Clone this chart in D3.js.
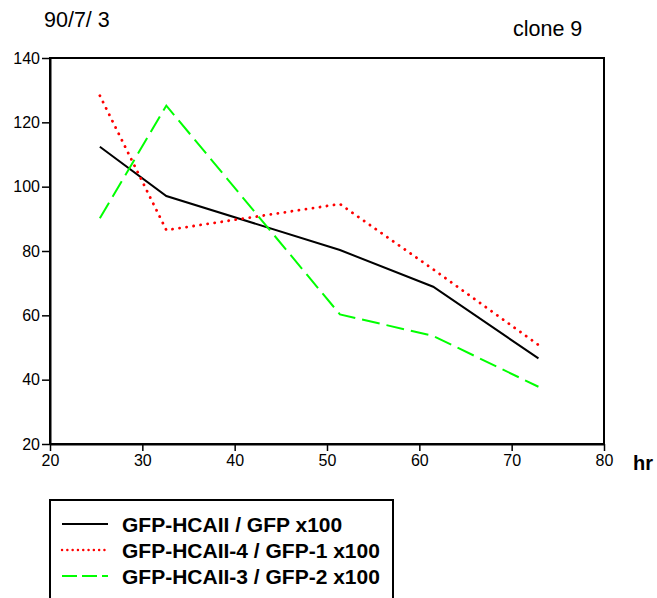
<!DOCTYPE html>
<html><head><meta charset="utf-8">
<script src="https://cdn.jsdelivr.net/npm/d3@7/dist/d3.min.js"></script>
<style>body{margin:0;background:#fff;}svg{display:block;font-family:Arial,"Liberation Sans",sans-serif;}</style>
</head><body><svg id="c" width="657" height="598"></svg>
<script>
const hours = [25.4, 32.6, 51.4, 61.5, 72.9];
const seriesNames = ["GFP-HCAII / GFP x100", "GFP-HCAII-4 / GFP-1 x100", "GFP-HCAII-3 / GFP-2 x100"];
const blackValues = [112.4, 97.1, 80.3, 68.9, 46.6];
const redValues = [128.3, 86.5, 94.6, 74.3, 50.8];
const greenValues = [90.2, 125.2, 60.3, 53.6, 37.8];
const xTicks = [20, 30, 40, 50, 60, 70, 80];
const yTicks = [20, 40, 60, 80, 100, 120, 140];
const titleLeft = "90/7/ 3";
const titleRight = "clone 9";
const xLabel = "hr";

const svg = d3.select("#c");
const x = d3.scaleLinear().domain([20, 80]).range([50, 604]);
const y = d3.scaleLinear().domain([20, 140]).range([444, 58]);

// frame
svg.append("rect").attr("x", 50).attr("y", 58).attr("width", 554).attr("height", 386)
  .attr("fill", "none").attr("stroke", "#000").attr("stroke-width", 2);

const xa = svg.append("g").attr("transform", "translate(0,444)")
  .call(d3.axisBottom(x).tickValues(xTicks).tickSize(7).tickSizeOuter(0).tickPadding(4));
const ya = svg.append("g").attr("transform", "translate(50,0)")
  .call(d3.axisLeft(y).tickValues(yTicks).tickSize(8).tickSizeOuter(0).tickPadding(2));
[xa, ya].forEach(a => {
  a.select(".domain").attr("stroke", "#000").attr("stroke-width", 2);
  a.selectAll(".tick line").attr("stroke", "#000").attr("stroke-width", 1.5);
  a.selectAll("text").attr("font-size", 16).attr("fill", "#000")
    .attr("font-family", "Arial, 'Liberation Sans', sans-serif");
});

const line = d3.line().x((d, i) => x(hours[i])).y(d => y(d));
const styles = [
  {vals: blackValues, color: "#000", dash: null, cap: "butt", legDash: null},
  {vals: redValues, color: "#ff0000", dash: "0.1 7", cap: "round", legDash: "0.1 5.2"},
  {vals: greenValues, color: "#00ff00", dash: "18 7", cap: "butt", legDash: "15 5"}
];
styles.forEach(s => {
  svg.append("path").datum(s.vals).attr("d", line).attr("fill", "none")
    .attr("stroke", s.color).attr("stroke-width", s.cap === "round" ? 2.8 : 2)
    .attr("stroke-dasharray", s.dash).attr("stroke-linecap", s.cap);
});

svg.append("text").attr("x", 44).attr("y", 27).attr("font-size", 21.5).text(titleLeft);
svg.append("text").attr("x", 513).attr("y", 36).attr("font-size", 21.5).text(titleRight);
svg.append("text").attr("x", 633).attr("y", 470).attr("font-size", 20).attr("font-weight", "bold").text(xLabel);

// legend
svg.append("rect").attr("x", 50).attr("y", 500).attr("width", 343).attr("height", 110)
  .attr("fill", "none").attr("stroke", "#000").attr("stroke-width", 2);
const rowsY = [524, 550, 576];
styles.forEach((s, i) => {
  svg.append("line").attr("x1", 62).attr("x2", 108).attr("y1", rowsY[i]).attr("y2", rowsY[i])
    .attr("stroke", s.color).attr("stroke-width", s.cap === "round" ? 2.4 : 2)
    .attr("stroke-dasharray", s.legDash).attr("stroke-linecap", s.cap);
  svg.append("text").attr("x", 122).attr("y", rowsY[i] + 7.5).attr("font-size", 21)
    .attr("font-weight", "bold").text(seriesNames[i]);
});
</script></body></html>
